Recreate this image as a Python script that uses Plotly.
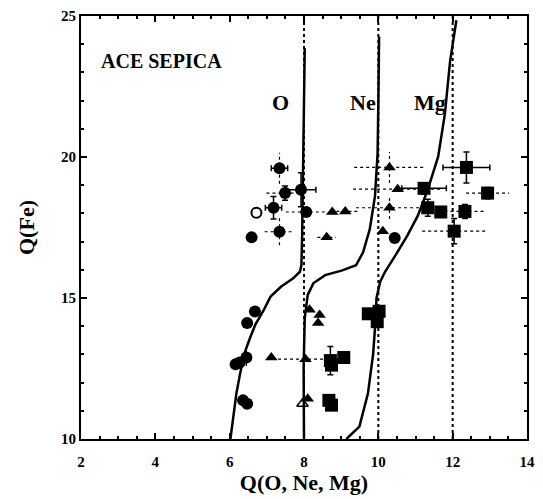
import plotly.graph_objects as go

# ---------------- data ----------------
# O charge states (filled circles)
o_x = [7.34, 7.49, 7.92, 7.18, 8.06, 7.34, 6.59, 10.44, 6.68, 6.47, 6.45, 6.27, 6.16, 6.36, 6.47]
o_y = [19.60, 18.72, 18.84, 18.20, 18.05, 17.35, 17.15, 17.13, 14.52, 14.11, 12.89, 12.71, 12.65, 11.37, 11.25]
o_xerr_solid = [0.22, 0, 0.4, 0.22, 0, 0, 0, 0, 0, 0, 0, 0, 0, 0, 0]
o_yerr_solid = [0, 0.25, 0.6, 0.4, 0, 0, 0, 0, 0, 0, 0, 0, 0, 0, 0]
o_xerr_dot = [0, 0.5, 0, 0, 0.55, 0.4, 0, 0, 0, 0, 0, 0, 0, 0, 0]
o_yerr_dot = [0.55, 0, 0, 0, 0, 0.48, 0, 0, 0, 0, 0.3, 0, 0, 0, 0]
o_open_x = [6.72]
o_open_y = [18.02]

# Ne charge states (filled triangles)
ne_x = [10.30, 10.52, 10.30, 9.11, 8.76, 8.61, 10.12, 8.15, 8.42, 8.38, 7.12, 8.04, 8.10]
ne_y = [19.63, 18.86, 18.20, 18.07, 18.05, 17.15, 17.37, 14.58, 14.40, 14.11, 12.89, 12.83, 11.43]
ne_xerr_dot = [0.95, 1.2, 0.9, 0.4, 0, 0.25, 0, 0, 0, 0, 0, 0.9, 0]
ne_yerr_dot = [0.55, 0, 0.4, 0, 0, 0, 0, 0, 0, 0, 0, 0, 0]
ne_open_x = [7.96]
ne_open_y = [11.25]

# Mg charge states (filled squares)
mg_x = [12.37, 11.23, 12.94, 11.33, 11.68, 12.33, 12.04, 9.73, 10.02, 9.97, 9.07, 8.71, 8.74, 8.67, 8.74]
mg_y = [19.63, 18.89, 18.72, 18.20, 18.05, 18.07, 17.37, 14.44, 14.53, 14.16, 12.89, 12.78, 12.62, 11.37, 11.20]
mg_xerr_solid = [0.63, 0.6, 0, 0, 0, 0, 0, 0, 0, 0, 0, 0, 0, 0, 0]
mg_yerr_solid = [0.55, 0.2, 0.2, 0.3, 0, 0.25, 0.45, 0, 0, 0, 0, 0.5, 0, 0, 0]
mg_xerr_dot = [0, 0, 0.58, 0, 0, 0.55, 0.86, 0, 0, 0, 0, 0, 0, 0, 0]
mg_yerr_dot = [0, 0, 0, 0, 0, 0, 0, 0, 0, 0, 0, 0, 0, 0, 0]

# model curves Q(element) vs Q(Fe)
o_curve_x = [6.02, 6.09, 6.18, 6.28, 6.39, 6.55, 6.69, 6.90, 7.10, 7.38, 7.70, 7.89, 7.93, 7.95, 7.98, 8.00, 8.02]
o_curve_y = [10.0, 10.79, 11.61, 12.31, 13.01, 13.59, 14.06, 14.53, 15.05, 15.40, 15.69, 15.93, 16.16, 17.21, 19.54, 21.87, 23.86]
ne_curve_x = [8.00, 7.99, 8.02, 8.10, 8.25, 8.57, 9.03, 9.40, 9.59, 9.77, 9.91, 9.98, 10.00, 10.02]
ne_curve_y = [10.0, 12.54, 14.29, 15.11, 15.52, 15.81, 15.98, 16.16, 16.62, 17.44, 18.61, 20.12, 21.87, 24.27]
mg_curve_x = [9.14, 9.49, 9.72, 9.86, 9.93, 9.95, 10.05, 10.18, 10.46, 10.78, 11.06, 11.33, 11.61, 11.79, 11.93, 12.02, 12.10]
mg_curve_y = [10.0, 10.44, 11.61, 13.01, 14.29, 14.99, 15.58, 15.93, 16.51, 17.21, 17.91, 18.84, 20.01, 21.52, 23.39, 24.21, 24.85]

ref_charges = [8, 10, 12]
curve_labels = ["O", "Ne", "Mg"]
curve_label_x = [7.38, 9.59, 11.38]
curve_label_y = 21.93

x_tick_vals = [2, 4, 6, 8, 10, 12, 14]
y_tick_vals = [10, 15, 20, 25]

FONT = "Liberation Serif, Times New Roman, serif"


def dotted_segments(xs, ys, xe, ye):
    sx, sy = [], []
    for x, y, ex, ey in zip(xs, ys, xe, ye):
        if ex:
            sx += [x - ex, x + ex, None]
            sy += [y, y, None]
        if ey:
            sx += [x, x, None]
            sy += [y - ey, y + ey, None]
    return sx, sy


fig = go.Figure()

# reference vertical dotted lines
for q in ref_charges:
    fig.add_vline(x=q, line=dict(color="black", width=2, dash="dot"))

# curves
for cx, cy in [(o_curve_x, o_curve_y), (ne_curve_x, ne_curve_y), (mg_curve_x, mg_curve_y)]:
    fig.add_trace(go.Scatter(x=cx, y=cy, mode="lines",
                             line=dict(color="black", width=2.5), showlegend=False))

# dotted error bars
for xs, ys, xe, ye in [(o_x, o_y, o_xerr_dot, o_yerr_dot),
                       (ne_x, ne_y, ne_xerr_dot, ne_yerr_dot),
                       (mg_x, mg_y, mg_xerr_dot, mg_yerr_dot)]:
    sx, sy = dotted_segments(xs, ys, xe, ye)
    fig.add_trace(go.Scatter(x=sx, y=sy, mode="lines",
                             line=dict(color="black", width=1.2, dash="dot"),
                             showlegend=False, hoverinfo="skip"))

eb = dict(color="black", thickness=1.5, width=3)

fig.add_trace(go.Scatter(x=o_x, y=o_y, mode="markers",
                         marker=dict(symbol="circle", size=12, color="black"),
                         error_x=dict(array=o_xerr_solid, **eb),
                         error_y=dict(array=o_yerr_solid, **eb),
                         showlegend=False))
fig.add_trace(go.Scatter(x=o_open_x, y=o_open_y, mode="markers",
                         marker=dict(symbol="circle-open", size=10, color="black",
                                     line=dict(width=2)),
                         showlegend=False))
fig.add_trace(go.Scatter(x=ne_x, y=ne_y, mode="markers",
                         marker=dict(symbol="triangle-up", size=11, color="black"),
                         showlegend=False))
fig.add_trace(go.Scatter(x=ne_open_x, y=ne_open_y, mode="markers",
                         marker=dict(symbol="triangle-up-open", size=10, color="black",
                                     line=dict(width=1.5)),
                         showlegend=False))
fig.add_trace(go.Scatter(x=mg_x, y=mg_y, mode="markers",
                         marker=dict(symbol="square", size=13, color="black"),
                         error_x=dict(array=mg_xerr_solid, **eb),
                         error_y=dict(array=mg_yerr_solid, **eb),
                         showlegend=False))

for lab, lx in zip(curve_labels, curve_label_x):
    fig.add_annotation(x=lx, y=curve_label_y, text="<b>" + lab + "</b>", showarrow=False,
                       font=dict(family=FONT, size=22, color="black"))

fig.add_annotation(x=0.04, y=0.925, xref="paper", yref="paper", text="<b>ACE SEPICA</b>",
                   showarrow=False, xanchor="left",
                   font=dict(family=FONT, size=20, color="black"))

axis_common = dict(showline=True, linecolor="black", linewidth=2, mirror="ticks",
                   ticks="inside", ticklen=6, tickwidth=1.5, tickcolor="black",
                   showgrid=False, zeroline=False,
                   tickfont=dict(family=FONT, size=15, color="black"))

fig.update_layout(
    width=543, height=499,
    margin=dict(l=81, r=8, t=12, b=60),
    paper_bgcolor="white", plot_bgcolor="white",
    xaxis=dict(range=[2, 14], tickvals=x_tick_vals,
               ticktext=["<b>%d</b>" % v for v in x_tick_vals],
               ticklabeloverflow="allow", ticklabelstandoff=8,
               minor=dict(dtick=0.5, ticklen=3, ticks="inside", tickcolor="black"),
               title=dict(text="<b>Q(O, Ne, Mg)</b>", standoff=4,
                          font=dict(family=FONT, size=22, color="black")),
               **axis_common),
    yaxis=dict(range=[10, 25], tickvals=y_tick_vals,
               ticktext=["<b>%d</b>" % v for v in y_tick_vals],
               ticklabeloverflow="allow",
               minor=dict(dtick=1, ticklen=3, ticks="inside", tickcolor="black"),
               title=dict(text="<b>Q(Fe)</b>", standoff=20,
                          font=dict(family=FONT, size=22, color="black")),
               **axis_common),
)

fig.write_html("out.html", config={"displayModeBar": False},
               post_script="document.body.style.margin='0';")
